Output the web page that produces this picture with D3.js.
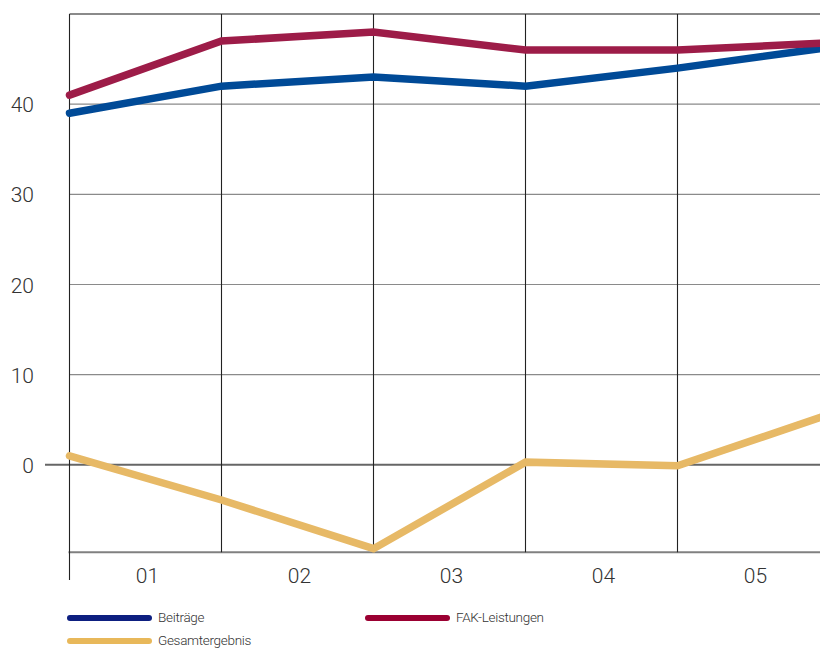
<!DOCTYPE html>
<html>
<head>
<meta charset="utf-8">
<script src="https://cdn.jsdelivr.net/npm/d3@7"></script>
<style>
  html, body { margin: 0; padding: 0; background: #fff; }
  svg { display: block; }
  text { font-family: "Roboto", "Liberation Sans", sans-serif; fill: #333; }
</style>
</head>
<body>
<svg id="chart" width="820" height="648"></svg>
<script>
// Year bands shown along the bottom axis
const categories = ["01", "02", "03", "04", "05"];
// Measurement points sit on the band boundaries (6 points)
const pointIndex = [0, 1, 2, 3, 4, 5];

const beitraege     = [39.0, 42.0, 43.0, 42.0, 44.0, 46.3];
const fakLeistungen = [41.0, 47.0, 48.0, 46.0, 46.0, 46.8];
const gesamt        = [1.0, -3.9, -9.3, 0.3, -0.1, 5.6];

const yGridValues  = [10, 20, 30, 40, 50];
const yTickLabels  = [0, 10, 20, 30, 40];

const seriesNames  = ["Beiträge", "FAK-Leistungen", "Gesamtergebnis"];
const lineColors   = ["#004a97", "#9d1c48", "#e7b966"];
const legendColors = ["#0d1f80", "#9b0032", "#e8b85a"];

const svg = d3.select("#chart");

const x = d3.scaleLinear().domain([0, 5]).range([69.5, 829.5]);
const y = d3.scaleLinear().domain([-9.7, 50]).range([552.3, 14]);

// horizontal gridlines
svg.append("g").selectAll("line").data(yGridValues).join("line")
  .attr("x1", x(0)).attr("x2", 820)
  .attr("y1", d => y(d)).attr("y2", d => y(d))
  .attr("stroke", "#8a8a8a")
  .attr("stroke-width", d => d === 50 ? 2 : 1.2);

// bottom frame line
svg.append("line")
  .attr("x1", x(0) - 1).attr("x2", 820)
  .attr("y1", y(-9.7)).attr("y2", y(-9.7))
  .attr("stroke", "#808080").attr("stroke-width", 2);

// zero line, extends out to the left as a tick
svg.append("line")
  .attr("x1", 45).attr("x2", 820)
  .attr("y1", y(0)).attr("y2", y(0))
  .attr("stroke", "#666").attr("stroke-width", 2);

// vertical gridlines
svg.append("g").selectAll("line").data(pointIndex).join("line")
  .attr("x1", d => x(d)).attr("x2", d => x(d))
  .attr("y1", y(50))
  .attr("y2", d => d === 0 ? 580 : y(-9.7))
  .attr("stroke", "#222").attr("stroke-width", 1.1);

// y tick labels
svg.append("g").selectAll("text").data(yTickLabels).join("text")
  .attr("x", 34).attr("y", d => y(d) + 8)
  .attr("text-anchor", "end")
  .attr("font-size", 21).attr("font-weight", 300)
  .text(d => d);

// category labels, centered in each band
svg.append("g").selectAll("text").data(categories).join("text")
  .attr("x", (d, i) => x(i + 0.5) + 2).attr("y", 583)
  .attr("text-anchor", "middle")
  .attr("font-size", 21).attr("font-weight", 300)
  .text(d => d);

// data lines
const line = d3.line().x((d, i) => x(pointIndex[i])).y(d => y(d));
const allSeries = [beitraege, fakLeistungen, gesamt];
// yellow first, then blue, then red on top
[2, 0, 1].forEach(k => {
  svg.append("path")
    .datum(allSeries[k])
    .attr("d", line)
    .attr("fill", "none")
    .attr("stroke", lineColors[k])
    .attr("stroke-width", 7.5)
    .attr("stroke-linejoin", "miter")
    .attr("stroke-linecap", "round");
});

// legend
const legendPos = [
  { x: 70, y: 618 },
  { x: 368, y: 618 },
  { x: 70, y: 641 }
];
const legend = svg.append("g");
seriesNames.forEach((name, i) => {
  const p = legendPos[i];
  legend.append("line")
    .attr("x1", p.x).attr("x2", p.x + 79)
    .attr("y1", p.y).attr("y2", p.y)
    .attr("stroke", legendColors[i]).attr("stroke-width", 6)
    .attr("stroke-linecap", "round");
  legend.append("text")
    .attr("x", p.x + 88).attr("y", p.y + 4)
    .attr("font-size", 13.5).attr("font-weight", 300)
    .attr("letter-spacing", -0.3)
    .text(name);
});
</script>
</body>
</html>
